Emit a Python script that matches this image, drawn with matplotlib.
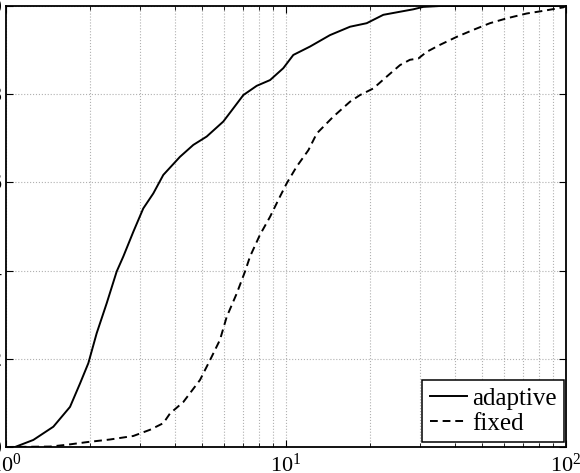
import matplotlib
matplotlib.use("Agg")
import matplotlib.pyplot as plt
from matplotlib.ticker import LogLocator, NullFormatter, MultipleLocator

plt.rcParams['font.family'] = ['Liberation Serif', 'DejaVu Serif']
plt.rcParams['mathtext.fontset'] = 'stix'

# adaptive (solid) curve
adaptive_x = [1.0, 1.077, 1.252, 1.476, 1.693, 1.838, 1.968, 2.108, 2.289, 2.485,
              2.624, 2.849, 3.092, 3.358, 3.646, 4.181, 4.666, 5.209, 5.971, 6.485,
              7.04, 7.86, 8.77, 9.78, 10.62, 12.18, 14.36, 16.93, 19.42, 22.26,
              25.54, 28.49, 30.9, 35.5, 100.0]
adaptive_y = [0.0, 0.0, 0.016, 0.046, 0.091, 0.144, 0.190, 0.258, 0.326, 0.398,
              0.432, 0.488, 0.541, 0.575, 0.617, 0.658, 0.685, 0.704, 0.738, 0.768,
              0.798, 0.819, 0.832, 0.859, 0.889, 0.908, 0.934, 0.953, 0.961, 0.980,
              0.987, 0.9925, 0.998, 1.0, 1.0]

# fixed (dashed) curve
fixed_x = [1.0, 1.436, 1.647, 1.942, 2.351, 2.849, 3.267, 3.646, 3.852, 4.298,
           4.93, 5.354, 5.81, 6.14, 6.667, 7.14, 7.44, 8.07, 8.77, 9.52,
           10.06, 10.92, 12.02, 12.88, 14.75, 16.93, 18.37, 20.5, 22.9, 25.54,
           27.7, 29.7, 31.8, 35.5, 40.7, 46.7, 53.5, 61.4, 72.4, 83.0,
           97.8, 100.0]
fixed_y = [0.0, 0.001, 0.005, 0.011, 0.017, 0.025, 0.039, 0.054, 0.076, 0.102,
           0.152, 0.197, 0.243, 0.295, 0.348, 0.398, 0.432, 0.481, 0.522, 0.568,
           0.598, 0.636, 0.673, 0.711, 0.749, 0.783, 0.798, 0.813, 0.840, 0.866,
           0.878, 0.881, 0.896, 0.912, 0.930, 0.946, 0.961, 0.972, 0.983, 0.989,
           0.997, 1.0]

labels = ['adaptive', 'fixed']

fig = plt.figure(figsize=(5.8, 4.73), dpi=100)
ax = fig.add_axes([6 / 580, 26 / 473, 560 / 580, 441 / 473])

ax.plot(adaptive_x, adaptive_y, color='black', lw=1.4, ls='-', label=labels[0])
ax.plot(fixed_x, fixed_y, color='black', lw=1.4, ls=(0, (4, 2.5)), label=labels[1])

ax.set_xscale('log')
ax.set_xlim(1, 100)
ax.set_ylim(0, 1)
ax.xaxis.set_major_locator(LogLocator(base=10))
ax.xaxis.set_minor_locator(LogLocator(base=10, subs=range(2, 10)))
ax.xaxis.set_minor_formatter(NullFormatter())
ax.yaxis.set_major_locator(MultipleLocator(0.2))

ax.grid(True, which='both', axis='x', ls=':', color='#b0b0b0', lw=0.8)
ax.grid(True, which='major', axis='y', ls=':', color='#b0b0b0', lw=0.8)

ax.tick_params(which='both', direction='in', top=True, right=True, labelsize=16)
ax.tick_params(which='major', length=5, width=0.8)
ax.tick_params(which='minor', length=3, width=0.6)
ax.tick_params(axis='x', pad=5)
ax.tick_params(axis='y', pad=3)
for s in ax.spines.values():
    s.set_linewidth(1.3)

leg = ax.legend(loc='lower right', bbox_to_anchor=(0.997, 0.011), borderaxespad=0,
                fancybox=False, edgecolor='black', framealpha=1, fontsize=18,
                handlelength=1.5, handletextpad=0.2, labelspacing=0.1,
                borderpad=0.3)
leg.get_frame().set_linewidth(1.1)

fig.savefig('out.png', dpi=100)
